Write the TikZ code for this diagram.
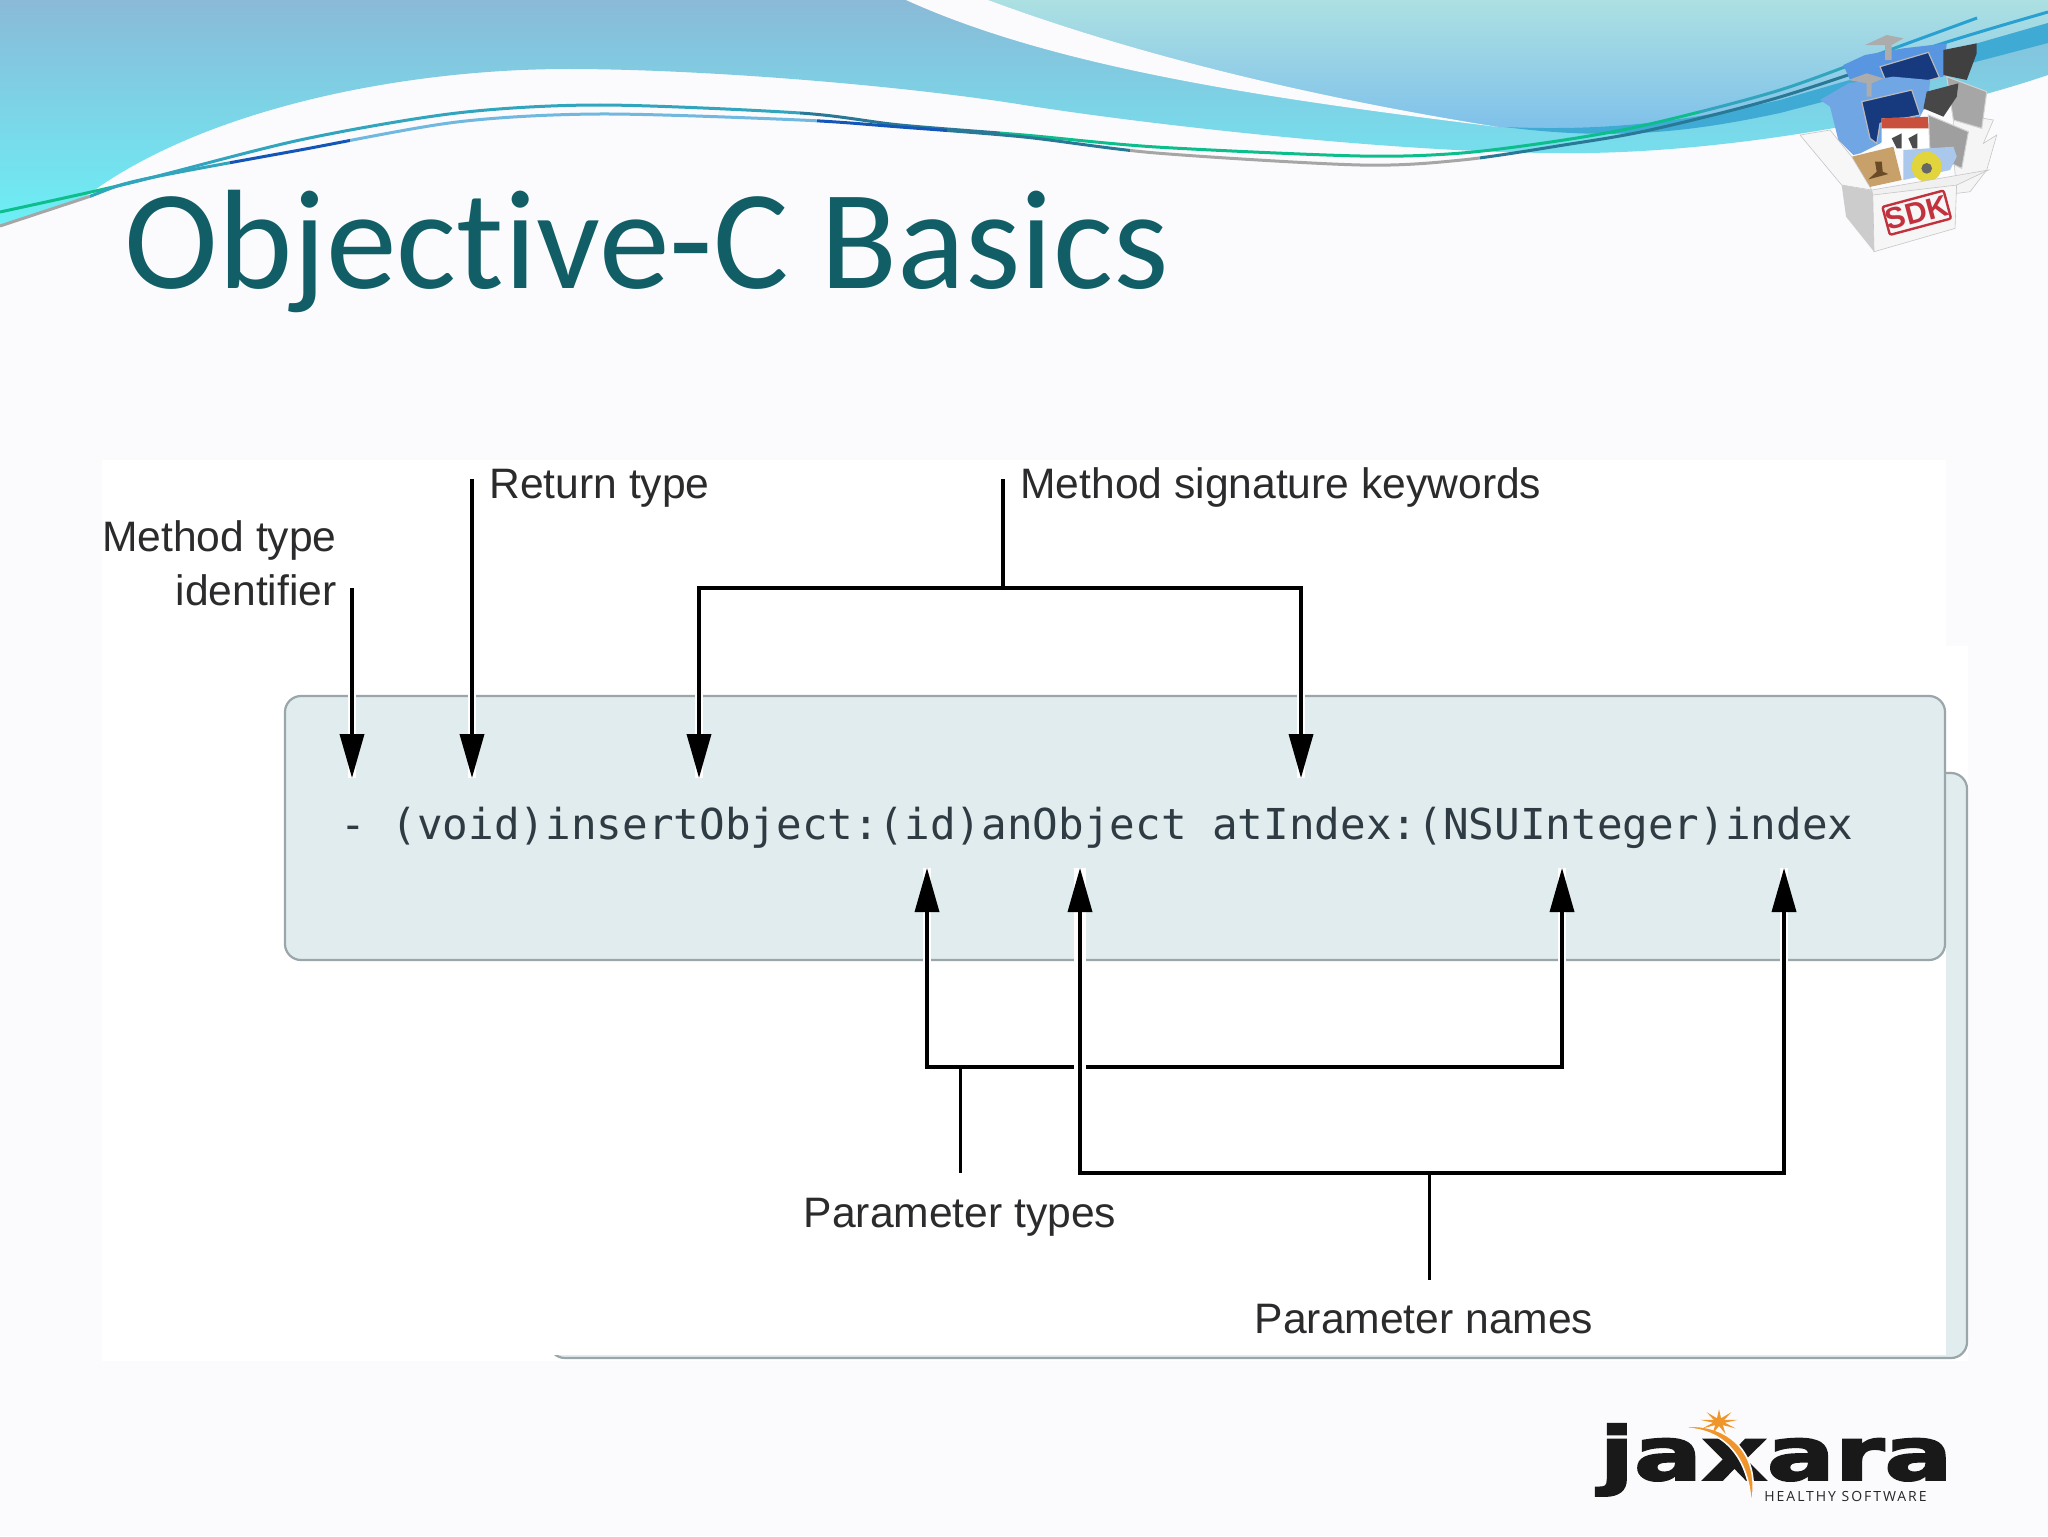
\documentclass[tikz,border=0pt]{standalone}
\usepackage{xcolor}
\usepackage{fontspec}
\usepackage{tikz}
\usetikzlibrary{positioning,arrows.meta,shapes.geometric}
\setmainfont{Liberation Sans}
\newfontfamily\titlefont[Ligatures={NoCommon,NoRequired,NoContextual}]{Carlito}
\newfontfamily\codefont{DejaVu Sans Mono}
\newfontfamily\logofont[FakeBold=2.5]{DejaVu Sans Bold}
\newfontfamily\sloganfont[LetterSpace=14]{Open Sans}
\definecolor{pagebg}{HTML}{FBFBFD}
\definecolor{titlecolor}{HTML}{115E67}
\definecolor{codefill}{HTML}{E0ECEE}
\definecolor{codeedge}{HTML}{9AA6A9}
\definecolor{inkcolor}{HTML}{2B2B2D}
\definecolor{codeink}{HTML}{2F3B43}
\definecolor{sdkred}{HTML}{C2323E}
\definecolor{sunorange}{HTML}{F0952A}
\definecolor{wavegreen}{RGB}{12,190,140}
\definecolor{waveteal}{RGB}{50,165,190}
\definecolor{wavesky}{RGB}{40,160,210}
\definecolor{wavedeep}{RGB}{20,85,185}
\definecolor{wavepale}{RGB}{112,184,224}
\definecolor{wavedark}{RGB}{40,120,150}
\definecolor{tileblue}{RGB}{88,150,225}
\definecolor{tilenavy}{RGB}{22,58,125}
\newcommand{\waveupper}{plot[smooth] coordinates {(0,212) (130,183) (300,140) (457,113) (600,105) (800,113) (900,125) (1024,135) (1156,147) (1360,156) (1462,153) (1564,140) (1650,124) (1780,90) (1903,45) (1977,18)}}
\newcommand{\wavelower}{plot[smooth] coordinates {(0,226) (85,198) (140,180) (300,150) (457,122) (600,114) (800,120) (900,127) (1024,137) (1156,153) (1360,165) (1462,160) (1564,145) (1650,130) (1780,97) (1947,42) (2048,12)}}

\begin{document}
\begin{tikzpicture}[
		x=0.5pt, y=-0.5pt,
		card/.style={rectangle, rounded corners=8pt, draw=codeedge, line width=1.1pt, fill=codefill, inner sep=0pt},
		tag/.style={inner sep=0pt, text=inkcolor, font=\fontsize{21.3}{27}\selectfont},
		wire/.style={line width=1.8pt, black},
		callout/.style={wire, -{Triangle[length=22pt,width=12pt]}, preaction={draw=white, line width=4pt, -{}}},
		crossing/.style={wire, preaction={draw=white, line width=6pt}},
		flap/.style={draw=gray!45, line width=0.3pt},
	]
	\useasboundingbox (0,0) rectangle (2048,1536);
	\fill[pagebg] (0,0) rectangle (2048,1536);

	% header waves
	\shade[draw=none, top color={rgb,255:red,138;green,186;blue,216}, bottom color={rgb,255:red,108;green,240;blue,246}]
		(0,0) -- (2048,0) -- (2048,75) .. controls (1900,125) and (1700,155) .. (1560,153)
		.. controls (1400,153) and (1150,125) .. (1024,105)
		.. controls (900,85) and (700,69) .. (568,69)
		.. controls (400,69) and (200,110) .. (85,197) -- (0,227) -- cycle;
	\shade[draw=none, top color={rgb,255:red,172;green,224;blue,226}, bottom color={rgb,255:red,126;green,192;blue,234}]
		(988,0) .. controls (1150,60) and (1330,100) .. (1498,127)
		.. controls (1620,132) and (1700,118) .. (1780,100) -- (2048,23) -- (2048,0) -- cycle;
	\fill[pagebg] (906,0) .. controls (1060,70) and (1280,100) .. (1498,127)
		.. controls (1330,100) and (1150,60) .. (988,0) -- cycle;
	\fill[color={rgb,255:red,63;green,171;blue,212}] (1505,127) .. controls (1620,132) and (1700,118) .. (1780,100) -- (2048,23) -- (2048,43)
		-- (1780,113) .. controls (1700,130) and (1620,142) .. (1505,127) -- cycle;

	% thin lines, coloured piece by piece
	\foreach \xa/\xb/\tint in {0/130/wavegreen, 130/800/waveteal, 800/1000/wavedark, 1000/1700/wavegreen, 1700/1900/waveteal, 1900/2048/wavesky} {
		\begin{scope}
			\clip (\xa,0) rectangle (\xb,300);
			\draw[line width=1.5pt, color=\tint] \waveupper;
		\end{scope}
	}
	\foreach \xa/\xb/\tint in {0/90/gray!70, 90/230/waveteal, 230/350/wavedeep, 350/817/wavepale, 817/947/wavedeep, 947/1130/wavedark, 1130/1480/gray!70, 1480/1900/wavedark, 1900/2048/wavesky} {
		\begin{scope}
			\clip (\xa,0) rectangle (\xb,300);
			\draw[line width=1.5pt, color=\tint] \wavelower;
		\end{scope}
	}

	% sdk box
	\begin{scope}[shift={(1780,20)}, x=0.1667pt, y=-0.1667pt]
		\fill[white!92!gray, flap] (520,280) -- (640,300) -- (610,370) -- (650,345) -- (620,450) -- (570,515) -- (530,520) -- (520,400) -- cycle;
		\fill[tileblue] (190,135) -- (255,105) -- (370,85) -- (500,70) -- (490,170) -- (300,200) -- (210,180) -- cycle;
		\fill[gray!65] (255,75) -- (320,45) -- (370,55) -- (335,75) -- (335,120) -- (315,120) -- (315,75) -- cycle;
		\fill[tilenavy, draw=gray!55, line width=0.6pt] (300,140) -- (445,97) -- (478,172) -- (330,215) -- cycle;
		\fill[black!75] (490,90) -- (590,70) -- (590,100) -- (560,180) -- (490,165) -- cycle;
		\fill[gray!70, draw=gray!35, line width=0.5pt] (500,170) -- (620,215) -- (605,325) -- (520,300) -- cycle;
		\fill[tileblue!85!white] (120,240) -- (205,190) -- (340,170) -- (450,180) -- (445,240) -- (420,290) -- (300,370) -- (240,400) -- (220,405) -- (175,360) -- (150,260) -- cycle;
		\fill[gray!65] (205,180) -- (260,160) -- (310,175) -- (275,190) -- (275,230) -- (260,230) -- (260,190) -- cycle;
		\fill[black!72] (440,215) -- (535,190) -- (530,230) -- (490,290) -- (430,265) -- cycle;
		\fill[tilenavy, draw=gray!55, line width=0.6pt] (245,245) -- (395,210) -- (420,285) -- (300,310) -- (290,370) -- (270,355) -- cycle;
		\fill[white] (305,295) -- (455,290) -- (450,390) -- (305,390) -- cycle;
		\fill[color={rgb,255:red,200;green,80;blue,60}] (305,295) -- (455,290) -- (450,325) -- (305,325) -- cycle;
		\fill[black!70] (335,355) -- (365,340) -- (365,385) -- (350,385) -- cycle;
		\fill[black!70] (385,355) -- (412,340) -- (412,385) -- (398,385) -- cycle;
		\fill[gray!75, draw=gray!35, line width=0.5pt] (445,285) -- (565,335) -- (545,445) -- (450,400) -- cycle;
		\fill[color={rgb,255:red,170;green,200;blue,235}] (370,390) -- (520,380) -- (530,410) -- (510,450) -- (370,480) -- cycle;
		\fill[color={rgb,255:red,226;green,212;blue,60}] (440,440) circle (45);
		\fill[black!60] (440,445) circle (16);
		\fill[color={rgb,255:red,200;green,160;blue,106}] (215,410) -- (340,380) -- (365,480) -- (250,505) -- cycle;
		\fill[color={rgb,255:red,105;green,75;blue,40}] (285,425) -- (305,425) -- (308,455) -- (325,462) -- (265,478) -- (290,455) -- cycle;
		\fill[white!94!gray, flap] (60,345) -- (150,330) -- (215,410) -- (275,510) -- (185,495) -- cycle;
		\fill[gray!40] (185,495) -- (278,512) -- (282,695) -- (198,590) -- cycle;
		\fill[white!93!gray, flap] (278,512) -- (530,480) -- (525,625) -- (282,695) -- cycle;
		\fill[white!88!gray, flap] (275,510) -- (625,450) -- (530,495) -- (278,525) -- cycle;
		\node[draw=sdkred, line width=1.2pt, rounded corners=1pt, rotate=15, inner sep=0pt, minimum width=27pt, minimum height=14.5pt, text=sdkred, font=\fontsize{15}{16}\bfseries\selectfont] (sdkstamp) at (410,578) {SDK};
	\end{scope}

	% title
	\node[anchor=base west, inner sep=0pt, text=titlecolor, font=\titlefont\fontsize{70.8}{71}\selectfont] (title) at (124,288) {Objective-C Basics};

	% figure panel
	\fill[white] (102,460) -- (1946,460) -- (1946,646) -- (1968,646) -- (1968,1361) -- (102,1361) -- cycle;
	\node[card, minimum width=709pt, minimum height=292.5pt] (backcard) at (1258,1065.5) {};
	\fill[white] (540,765) rectangle (1946,1355);
	\node[card, minimum width=830pt, minimum height=132pt] (codebox) at (1115,828) {};
	\node[anchor=base west, inner sep=0pt, text=codeink, font=\codefont\fontsize{21.3}{24}\selectfont] (signature) at (340,839) {- (void)insertObject:(id)anObject atIndex:(NSUInteger)index};

	% anchors of the brackets
	\coordinate (dashtop)  at (352,588);
	\coordinate (dashtip)  at (352,778);
	\coordinate (voidtop)  at (472,479);
	\coordinate (voidtip)  at (472,778);
	\coordinate (keyleft)  at (699,588);
	\coordinate (keyright) at (1301,588);
	\coordinate (keytop)   at (1003,479);
	\coordinate (keymid)   at (1003,588);
	\coordinate (keytipa)  at (699,778);
	\coordinate (keytipb)  at (1301,778);
	\coordinate (typeleft)  at (927,1067);
	\coordinate (typeright) at (1562,1067);
	\coordinate (typetipa)  at (927,868);
	\coordinate (typetipb)  at (1562,868);
	\coordinate (typejoin)  at (960,1067);
	\coordinate (typeend)   at (960,1173);
	\coordinate (nameleft)  at (1080,1173);
	\coordinate (nameright) at (1784,1173);
	\coordinate (nametipa)  at (1080,868);
	\coordinate (nametipb)  at (1784,868);
	\coordinate (namejoin)  at (1429,1173);
	\coordinate (nameend)   at (1429,1280);

	\draw[callout] (dashtop) -- (dashtip);
	\draw[callout] (voidtop) -- (voidtip);
	\draw[callout] (keyleft) -- (keytipa);
	\draw[callout] (keyright) -- (keytipb);
	\draw[wire, line cap=rect] (keyleft) -- (keyright);
	\draw[wire] (keytop) -- (keymid);

	\draw[callout] (typeleft) -- (typetipa);
	\draw[callout] (typeright) -- (typetipb);
	\draw[wire, line cap=rect] (typeleft) -- (typeright);
	\draw[wire, line width=1.5pt] (typejoin) -- (typeend);

	\draw[crossing] (nameleft) -- (nametipa);
	\draw[callout] (nameleft) -- (nametipa);
	\draw[callout] (nameright) -- (nametipb);
	\draw[wire, line cap=rect] (nameleft) -- (nameright);
	\draw[wire, line width=1.5pt] (namejoin) -- (nameend);

	% labels
	\node[tag, anchor=north east, align=right] (methodtype) at (337,520) {Method type\\identifier};
	\node[tag, anchor=base west] (returntype) at (489,498) {Return type};
	\node[tag, anchor=base west] (keywords) at (1020,498) {Method signature keywords};
	\node[tag, anchor=base] (paramtypes) at (960,1227) {Parameter types};
	\node[tag, anchor=base] (paramnames) at (1424,1333) {Parameter names};

	% logo
	\node[anchor=base west, inner sep=0pt, text=black!90, xscale=1.36, font=\logofont\fontsize{37}{37}\selectfont] (logoword) at (1599,1480) {\smash{jaxara}};
	\fill[sunorange, draw=pagebg, line width=0.8pt] (1675,1429) .. controls (1710,1418) and (1765,1440) .. (1751,1507)
		.. controls (1750,1450) and (1715,1424) .. (1675,1429) -- cycle;
	\node[star, star points=9, star point ratio=3.2, minimum size=16pt, inner sep=0pt, fill=sunorange, xscale=1.2, yscale=0.8] (logosun) at (1719,1422) {};
	\node[anchor=base west, inner sep=0pt, text=black!85, font=\sloganfont\fontsize{7}{8}\selectfont] (logoslogan) at (1764,1501) {HEALTHY SOFTWARE};
\end{tikzpicture}
\end{document}
